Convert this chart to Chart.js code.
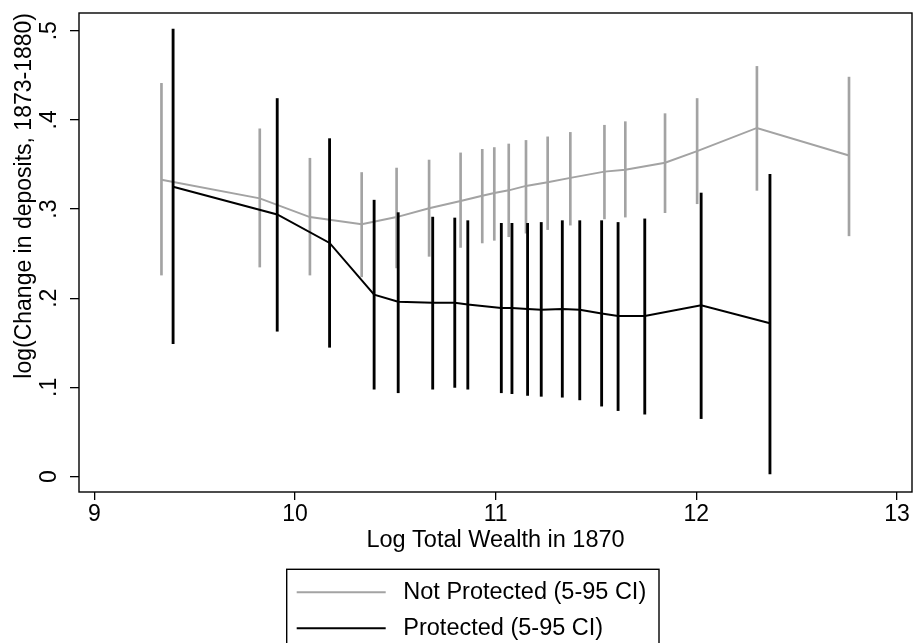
<!DOCTYPE html>
<html>
<head>
<meta charset="utf-8">
<script src="https://cdn.jsdelivr.net/npm/chart.js@4"></script>
<style>
  body { margin: 0; background: #fff; }
  canvas { display: block; }
</style>
</head>
<body>
<canvas id="myChart" width="913" height="643"></canvas>
<script>
// Not protected: bin position, mean and 5-95 CI
var xNotProt = [9.334, 9.824, 10.074, 10.332, 10.506, 10.668, 10.825, 10.933, 10.993, 11.065, 11.151, 11.259, 11.372, 11.542, 11.646, 11.844, 12.004, 12.302, 12.761];
var meanNotProt = [0.333, 0.312, 0.291, 0.283, 0.291, 0.301, 0.309, 0.315, 0.318, 0.321, 0.326, 0.330, 0.335, 0.342, 0.344, 0.352, 0.365, 0.391, 0.360];
var loNotProt = [0.226, 0.235, 0.226, 0.224, 0.234, 0.247, 0.257, 0.262, 0.265, 0.269, 0.273, 0.277, 0.282, 0.289, 0.291, 0.296, 0.306, 0.321, 0.270];
var hiNotProt = [0.441, 0.390, 0.357, 0.341, 0.346, 0.355, 0.363, 0.367, 0.369, 0.373, 0.377, 0.381, 0.386, 0.394, 0.398, 0.407, 0.424, 0.460, 0.448];

// Protected
var xProt = [9.392, 9.911, 10.172, 10.394, 10.514, 10.686, 10.796, 10.861, 11.028, 11.081, 11.159, 11.227, 11.332, 11.419, 11.528, 11.610, 11.743, 12.024, 12.367];
var meanProt = [0.325, 0.294, 0.262, 0.204, 0.196, 0.195, 0.195, 0.193, 0.189, 0.189, 0.188, 0.187, 0.188, 0.187, 0.183, 0.180, 0.180, 0.192, 0.172];
var loProt = [0.149, 0.163, 0.145, 0.098, 0.094, 0.098, 0.100, 0.098, 0.094, 0.093, 0.091, 0.090, 0.089, 0.086, 0.079, 0.074, 0.070, 0.065, 0.003];
var hiProt = [0.502, 0.424, 0.379, 0.310, 0.296, 0.291, 0.290, 0.287, 0.284, 0.284, 0.284, 0.285, 0.287, 0.287, 0.287, 0.285, 0.289, 0.318, 0.339];

var xTicks = [9, 10, 11, 12, 13];
var yTicks = [0, 0.1, 0.2, 0.3, 0.4, 0.5];
var yTickLabels = ['0', '.1', '.2', '.3', '.4', '.5'];
var seriesLabels = ['Not Protected (5-95 CI)', 'Protected (5-95 CI)'];

var GRAY = '#a3a3a3';
var BLACK = '#000000';
var FONT = "'Liberation Sans', Arial, Helvetica, sans-serif";

Chart.defaults.font.family = FONT;
Chart.defaults.color = '#000';

function points(xs, ys) {
    return xs.map((x, i) => ({ x: x, y: ys[i] }));
}
function ranges(xs, lo, hi) {
    return xs.map((x, i) => ({ x: x, y: [lo[i], hi[i]] }));
}

// box round the plot and the stacked legend below it
var frameAndLegend = {
    id: 'frameAndLegend',
    afterDraw: function (chart) {
        var ctx = chart.ctx, a = chart.chartArea;
        ctx.save();
        ctx.strokeStyle = '#000';
        ctx.lineWidth = 1.4;
        ctx.strokeRect(a.left, a.top, a.right - a.left, a.bottom - a.top);

        var lx = 286.7, ly = 569.3;
        ctx.strokeRect(lx, ly, 372.3, 120);
        var colors = [GRAY, BLACK];
        ctx.font = '23.5px ' + FONT;
        ctx.textBaseline = 'middle';
        ctx.textAlign = 'left';
        colors.forEach(function (c, i) {
            var y = ly + 23 + i * 36;
            ctx.strokeStyle = c;
            ctx.lineWidth = 2;
            ctx.beginPath();
            ctx.moveTo(lx + 10, y);
            ctx.lineTo(lx + 99, y);
            ctx.stroke();
            ctx.fillStyle = '#000';
            ctx.fillText(seriesLabels[i], lx + 116.6, y);
        });
        ctx.restore();
    }
};

var ctx = document.getElementById('myChart').getContext('2d');
var chart = new Chart(ctx, {
    type: 'bar',
    data: {
        datasets: [
            {
                type: 'line',
                label: seriesLabels[1],
                data: points(xProt, meanProt),
                borderColor: BLACK,
                borderWidth: 2,
                pointRadius: 0,
                tension: 0,
                order: 0
            },
            {
                label: 'Protected CI',
                data: ranges(xProt, loProt, hiProt),
                backgroundColor: BLACK,
                barThickness: 2.2,
                stack: 'ci',
                order: 1
            },
            {
                type: 'line',
                label: seriesLabels[0],
                data: points(xNotProt, meanNotProt),
                borderColor: GRAY,
                borderWidth: 2,
                pointRadius: 0,
                tension: 0,
                order: 2
            },
            {
                label: 'Not Protected CI',
                data: ranges(xNotProt, loNotProt, hiNotProt),
                backgroundColor: GRAY,
                barThickness: 2,
                stack: 'ci',
                order: 3
            }
        ]
    },
    options: {
        responsive: false,
        animation: false,
        layout: { padding: { top: 13, right: 1, bottom: 88, left: 0 } },
        plugins: {
            legend: { display: false },
            tooltip: { enabled: false }
        },
        scales: {
            x: {
                type: 'linear',
                position: 'bottom',
                offset: false,
                min: 8.923,
                max: 13.075,
                afterBuildTicks: s => { s.ticks = xTicks.map(v => ({ value: v })); },
                afterFit: s => { s.height = 63; s.paddingLeft = 0; s.paddingRight = 0; },
                grid: { offset: false, drawOnChartArea: false, drawTicks: true, tickLength: 8, color: '#000', lineWidth: 1.3 },
                border: { display: false },
                ticks: {
                    font: { size: 23 },
                    padding: 1,
                    maxRotation: 0,
                    autoSkip: false,
                    callback: v => String(v)
                },
                title: {
                    display: true,
                    text: 'Log Total Wealth in 1870',
                    font: { size: 23.5 },
                    padding: 0
                }
            },
            y: {
                type: 'linear',
                stacked: false,
                min: -0.0173,
                max: 0.5199,
                afterBuildTicks: s => { s.ticks = yTicks.map(v => ({ value: v })); },
                afterFit: s => { s.width = 79; s.paddingTop = 0; s.paddingBottom = 0; },
                grid: { drawOnChartArea: false, drawTicks: true, tickLength: 9, color: '#000', lineWidth: 1.3 },
                border: { display: false },
                ticks: {
                    font: { size: 23 },
                    padding: 10.5,
                    minRotation: 90,
                    maxRotation: 90,
                    crossAlign: 'center',
                    autoSkip: false,
                    callback: (v, i) => yTickLabels[i]
                },
                title: {
                    display: true,
                    text: 'log(Change in deposits, 1873-1880)',
                    align: 'end',
                    font: { size: 23 },
                    padding: { top: 10.7, bottom: 0 }
                }
            }
        }
    },
    plugins: [frameAndLegend]
});
</script>
</body>
</html>
